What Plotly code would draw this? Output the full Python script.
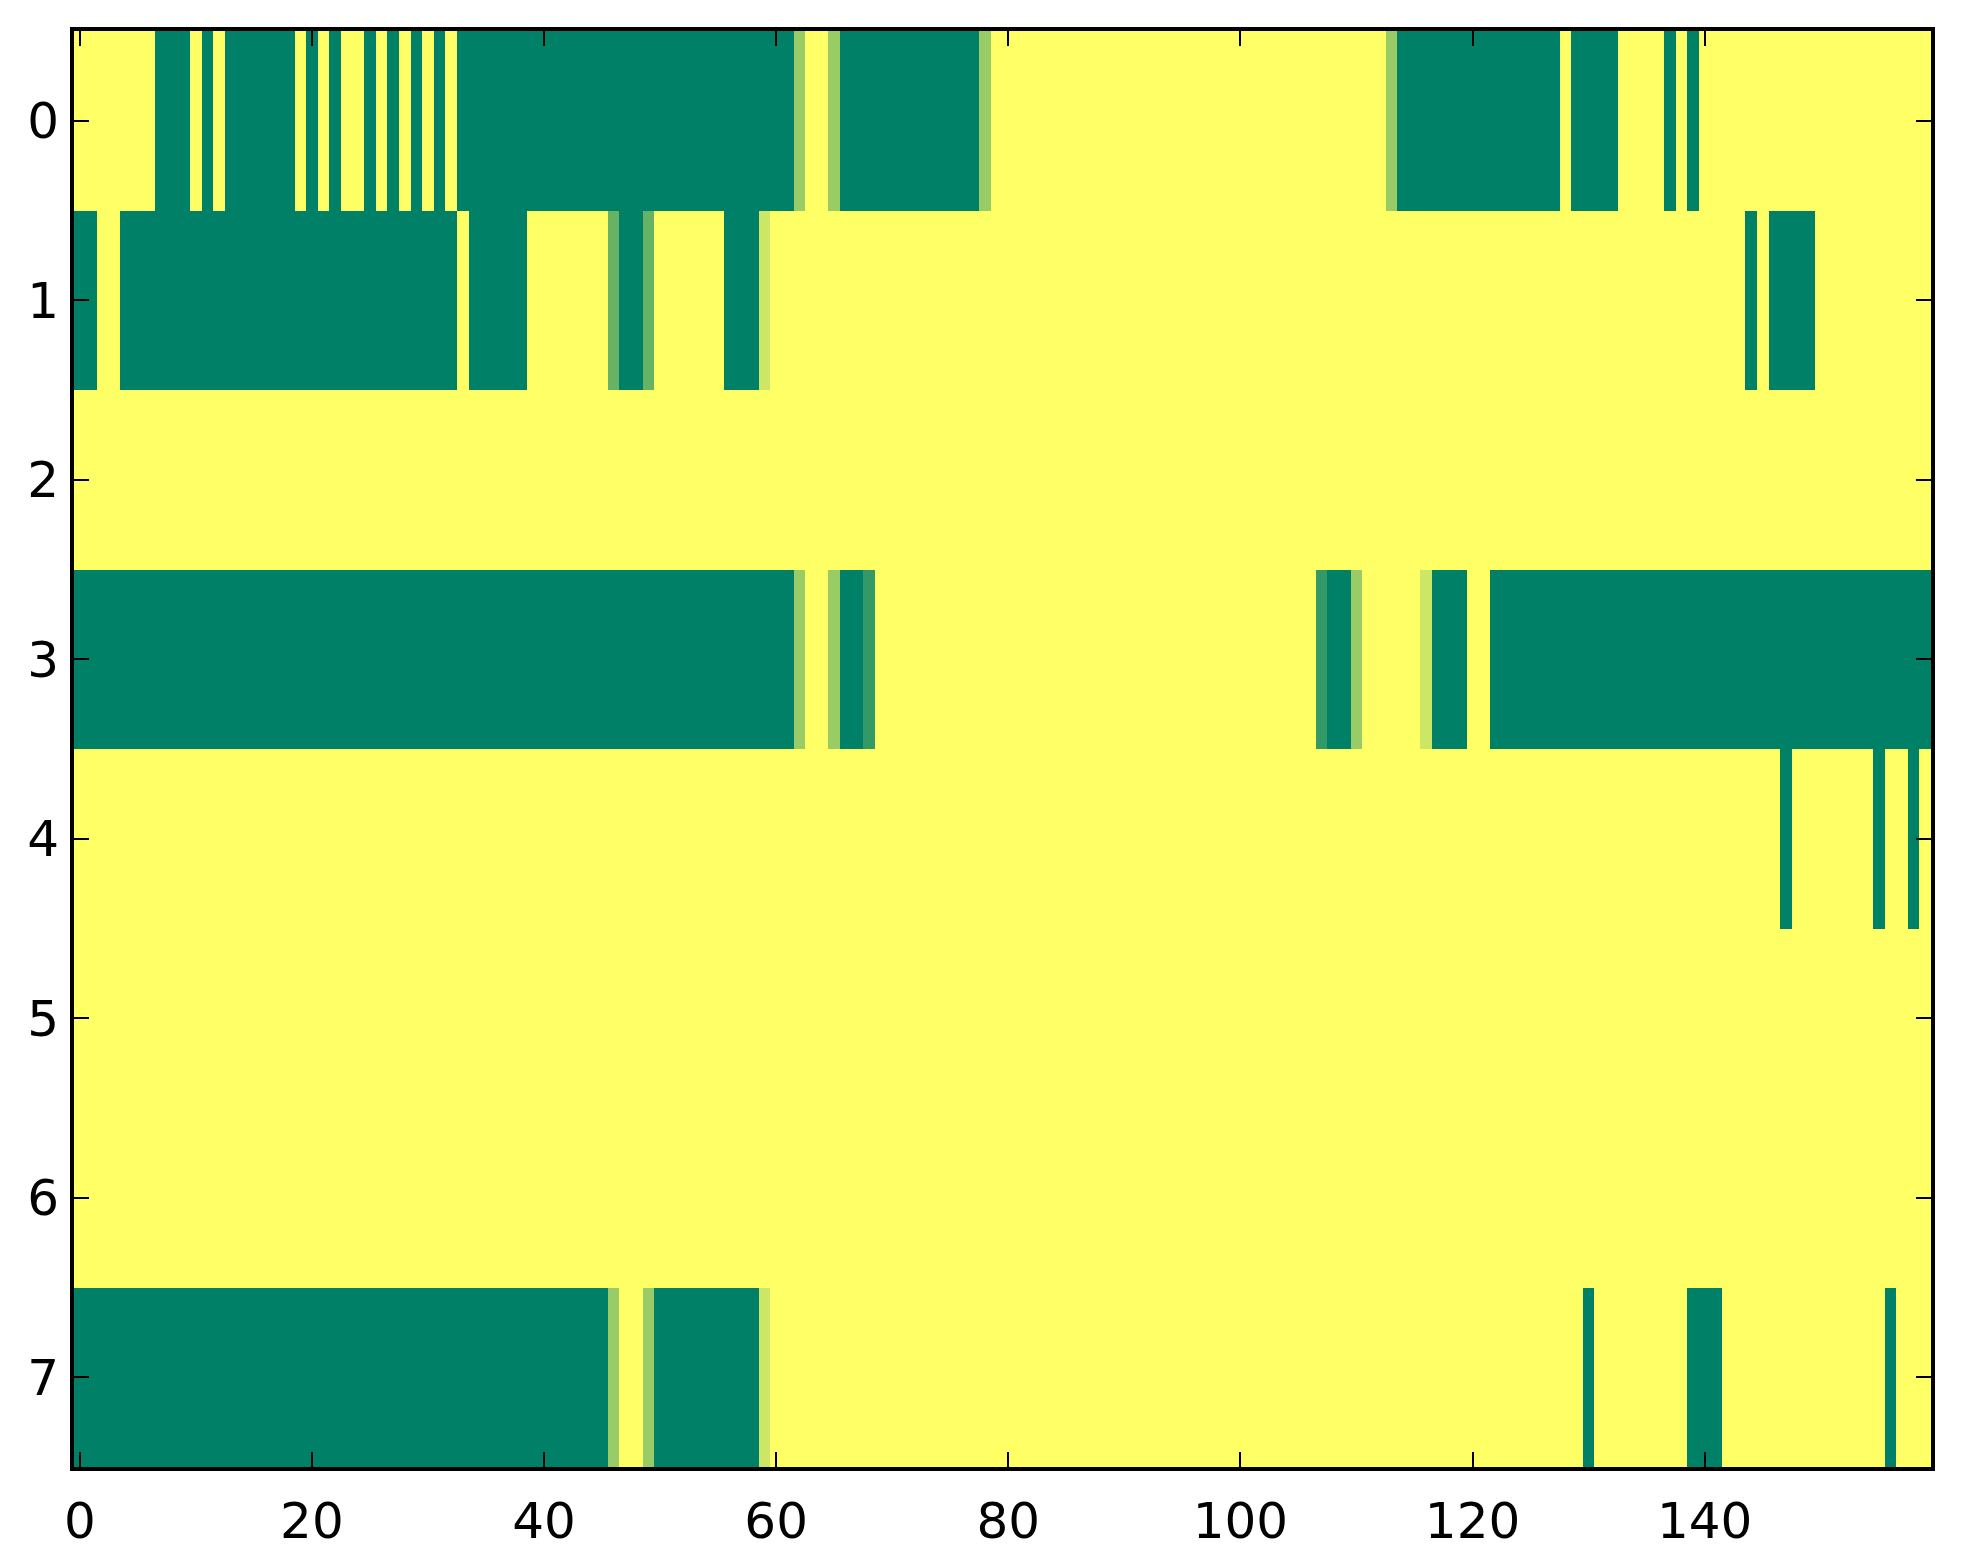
import plotly.graph_objects as go

# one list per row, 160 cells each (values 0..1, drawn with the "summer" map)
row_0 = [1, 1, 1, 1, 1, 1, 1, 0, 0, 0, 1, 0, 1, 0, 0, 0, 0, 0, 0, 1,
         0, 1, 0, 1, 1, 0, 1, 0, 1, 0, 1, 0, 1, 0, 0, 0, 0, 0, 0, 0,
         0, 0, 0, 0, 0, 0, 0, 0, 0, 0, 0, 0, 0, 0, 0, 0, 0, 0, 0, 0,
         0, 0, .6, 1, 1, .6, 0, 0, 0, 0, 0, 0, 0, 0, 0, 0, 0, 0, .6, 1,
         1, 1, 1, 1, 1, 1, 1, 1, 1, 1, 1, 1, 1, 1, 1, 1, 1, 1, 1, 1,
         1, 1, 1, 1, 1, 1, 1, 1, 1, 1, 1, 1, 1, .6, 0, 0, 0, 0, 0, 0,
         0, 0, 0, 0, 0, 0, 0, 0, 1, 0, 0, 0, 0, 1, 1, 1, 1, 0, 1, 0,
         1, 1, 1, 1, 1, 1, 1, 1, 1, 1, 1, 1, 1, 1, 1, 1, 1, 1, 1, 1]

row_1 = [0, 0, 1, 1, 0, 0, 0, 0, 0, 0, 0, 0, 0, 0, 0, 0, 0, 0, 0, 0,
         0, 0, 0, 0, 0, 0, 0, 0, 0, 0, 0, 0, 0, 1, 0, 0, 0, 0, 0, 1,
         1, 1, 1, 1, 1, 1, .4, 0, 0, .4, 1, 1, 1, 1, 1, 1, 0, 0, 0, .8,
         1, 1, 1, 1, 1, 1, 1, 1, 1, 1, 1, 1, 1, 1, 1, 1, 1, 1, 1, 1,
         1, 1, 1, 1, 1, 1, 1, 1, 1, 1, 1, 1, 1, 1, 1, 1, 1, 1, 1, 1,
         1, 1, 1, 1, 1, 1, 1, 1, 1, 1, 1, 1, 1, 1, 1, 1, 1, 1, 1, 1,
         1, 1, 1, 1, 1, 1, 1, 1, 1, 1, 1, 1, 1, 1, 1, 1, 1, 1, 1, 1,
         1, 1, 1, 1, 0, 1, 0, 0, 0, 0, 1, 1, 1, 1, 1, 1, 1, 1, 1, 1]

row_2 = [1, 1, 1, 1, 1, 1, 1, 1, 1, 1, 1, 1, 1, 1, 1, 1, 1, 1, 1, 1,
         1, 1, 1, 1, 1, 1, 1, 1, 1, 1, 1, 1, 1, 1, 1, 1, 1, 1, 1, 1,
         1, 1, 1, 1, 1, 1, 1, 1, 1, 1, 1, 1, 1, 1, 1, 1, 1, 1, 1, 1,
         1, 1, 1, 1, 1, 1, 1, 1, 1, 1, 1, 1, 1, 1, 1, 1, 1, 1, 1, 1,
         1, 1, 1, 1, 1, 1, 1, 1, 1, 1, 1, 1, 1, 1, 1, 1, 1, 1, 1, 1,
         1, 1, 1, 1, 1, 1, 1, 1, 1, 1, 1, 1, 1, 1, 1, 1, 1, 1, 1, 1,
         1, 1, 1, 1, 1, 1, 1, 1, 1, 1, 1, 1, 1, 1, 1, 1, 1, 1, 1, 1,
         1, 1, 1, 1, 1, 1, 1, 1, 1, 1, 1, 1, 1, 1, 1, 1, 1, 1, 1, 1]

row_3 = [0, 0, 0, 0, 0, 0, 0, 0, 0, 0, 0, 0, 0, 0, 0, 0, 0, 0, 0, 0,
         0, 0, 0, 0, 0, 0, 0, 0, 0, 0, 0, 0, 0, 0, 0, 0, 0, 0, 0, 0,
         0, 0, 0, 0, 0, 0, 0, 0, 0, 0, 0, 0, 0, 0, 0, 0, 0, 0, 0, 0,
         0, 0, .6, 1, 1, .6, 0, 0, .2, 1, 1, 1, 1, 1, 1, 1, 1, 1, 1, 1,
         1, 1, 1, 1, 1, 1, 1, 1, 1, 1, 1, 1, 1, 1, 1, 1, 1, 1, 1, 1,
         1, 1, 1, 1, 1, 1, 1, .2, 0, 0, .6, 1, 1, 1, 1, 1, .8, 0, 0, 0,
         1, 1, 0, 0, 0, 0, 0, 0, 0, 0, 0, 0, 0, 0, 0, 0, 0, 0, 0, 0,
         0, 0, 0, 0, 0, 0, 0, 0, 0, 0, 0, 0, 0, 0, 0, 0, 0, 0, 0, 0]

row_4 = [1, 1, 1, 1, 1, 1, 1, 1, 1, 1, 1, 1, 1, 1, 1, 1, 1, 1, 1, 1,
         1, 1, 1, 1, 1, 1, 1, 1, 1, 1, 1, 1, 1, 1, 1, 1, 1, 1, 1, 1,
         1, 1, 1, 1, 1, 1, 1, 1, 1, 1, 1, 1, 1, 1, 1, 1, 1, 1, 1, 1,
         1, 1, 1, 1, 1, 1, 1, 1, 1, 1, 1, 1, 1, 1, 1, 1, 1, 1, 1, 1,
         1, 1, 1, 1, 1, 1, 1, 1, 1, 1, 1, 1, 1, 1, 1, 1, 1, 1, 1, 1,
         1, 1, 1, 1, 1, 1, 1, 1, 1, 1, 1, 1, 1, 1, 1, 1, 1, 1, 1, 1,
         1, 1, 1, 1, 1, 1, 1, 1, 1, 1, 1, 1, 1, 1, 1, 1, 1, 1, 1, 1,
         1, 1, 1, 1, 1, 1, 1, 0, 1, 1, 1, 1, 1, 1, 1, 0, 1, 1, 0, 1]

row_5 = [1, 1, 1, 1, 1, 1, 1, 1, 1, 1, 1, 1, 1, 1, 1, 1, 1, 1, 1, 1,
         1, 1, 1, 1, 1, 1, 1, 1, 1, 1, 1, 1, 1, 1, 1, 1, 1, 1, 1, 1,
         1, 1, 1, 1, 1, 1, 1, 1, 1, 1, 1, 1, 1, 1, 1, 1, 1, 1, 1, 1,
         1, 1, 1, 1, 1, 1, 1, 1, 1, 1, 1, 1, 1, 1, 1, 1, 1, 1, 1, 1,
         1, 1, 1, 1, 1, 1, 1, 1, 1, 1, 1, 1, 1, 1, 1, 1, 1, 1, 1, 1,
         1, 1, 1, 1, 1, 1, 1, 1, 1, 1, 1, 1, 1, 1, 1, 1, 1, 1, 1, 1,
         1, 1, 1, 1, 1, 1, 1, 1, 1, 1, 1, 1, 1, 1, 1, 1, 1, 1, 1, 1,
         1, 1, 1, 1, 1, 1, 1, 1, 1, 1, 1, 1, 1, 1, 1, 1, 1, 1, 1, 1]

row_6 = [1, 1, 1, 1, 1, 1, 1, 1, 1, 1, 1, 1, 1, 1, 1, 1, 1, 1, 1, 1,
         1, 1, 1, 1, 1, 1, 1, 1, 1, 1, 1, 1, 1, 1, 1, 1, 1, 1, 1, 1,
         1, 1, 1, 1, 1, 1, 1, 1, 1, 1, 1, 1, 1, 1, 1, 1, 1, 1, 1, 1,
         1, 1, 1, 1, 1, 1, 1, 1, 1, 1, 1, 1, 1, 1, 1, 1, 1, 1, 1, 1,
         1, 1, 1, 1, 1, 1, 1, 1, 1, 1, 1, 1, 1, 1, 1, 1, 1, 1, 1, 1,
         1, 1, 1, 1, 1, 1, 1, 1, 1, 1, 1, 1, 1, 1, 1, 1, 1, 1, 1, 1,
         1, 1, 1, 1, 1, 1, 1, 1, 1, 1, 1, 1, 1, 1, 1, 1, 1, 1, 1, 1,
         1, 1, 1, 1, 1, 1, 1, 1, 1, 1, 1, 1, 1, 1, 1, 1, 1, 1, 1, 1]

row_7 = [0, 0, 0, 0, 0, 0, 0, 0, 0, 0, 0, 0, 0, 0, 0, 0, 0, 0, 0, 0,
         0, 0, 0, 0, 0, 0, 0, 0, 0, 0, 0, 0, 0, 0, 0, 0, 0, 0, 0, 0,
         0, 0, 0, 0, 0, 0, .6, 1, 1, .6, 0, 0, 0, 0, 0, 0, 0, 0, 0, .8,
         1, 1, 1, 1, 1, 1, 1, 1, 1, 1, 1, 1, 1, 1, 1, 1, 1, 1, 1, 1,
         1, 1, 1, 1, 1, 1, 1, 1, 1, 1, 1, 1, 1, 1, 1, 1, 1, 1, 1, 1,
         1, 1, 1, 1, 1, 1, 1, 1, 1, 1, 1, 1, 1, 1, 1, 1, 1, 1, 1, 1,
         1, 1, 1, 1, 1, 1, 1, 1, 1, 1, 0, 1, 1, 1, 1, 1, 1, 1, 1, 0,
         0, 0, 1, 1, 1, 1, 1, 1, 1, 1, 1, 1, 1, 1, 1, 1, 0, 1, 1, 1]

rows = [row_0, row_1, row_2, row_3, row_4, row_5, row_6, row_7]
row_ids = [0, 1, 2, 3, 4, 5, 6, 7]
col_ids = list(range(len(row_0)))
x_ticks = [0, 20, 40, 60, 80, 100, 120, 140]

# matplotlib "summer": linear from green to yellow
summer = [[0.0, "#008066"], [1.0, "#ffff66"]]

fig = go.Figure(go.Heatmap(z=rows, x=col_ids, y=row_ids, colorscale=summer,
                           zmin=0, zmax=1, showscale=False, hoverinfo="skip"))

axis_style = dict(showline=True, linecolor="black", linewidth=4, mirror="allticks",
                  ticks="inside", ticklen=15, tickwidth=2, tickcolor="black",
                  showgrid=False, zeroline=False,
                  tickfont=dict(family="DejaVu Sans", size=50, color="black"))

fig.update_xaxes(range=[-0.5, 159.5], tickvals=x_ticks, ticklabelstandoff=7, **axis_style)
fig.update_yaxes(range=[7.5, -0.5], tickvals=row_ids, ticklabelstandoff=1, **axis_style)

# page body keeps its default 8px margin, so the figure is 8px smaller
fig.update_layout(width=1955, height=1556, margin=dict(l=66, r=32, t=23, b=97),
                  plot_bgcolor="white", paper_bgcolor="white")

fig.write_html("out.html")
